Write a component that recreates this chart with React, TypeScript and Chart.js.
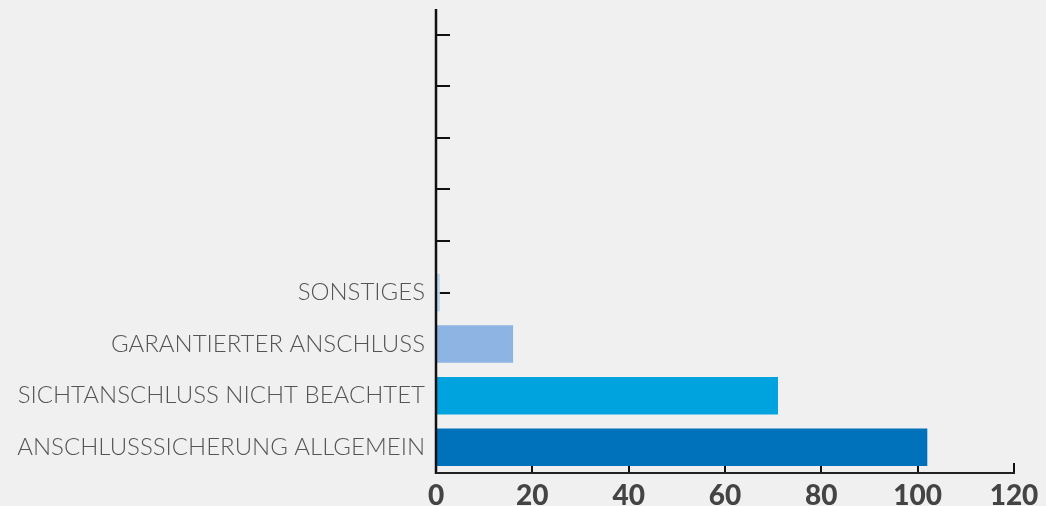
import React, { useEffect, useRef } from "react";
import { Chart, registerables } from "chart.js";

Chart.register(...registerables);

const categories: string[] = [
  "",
  "",
  "",
  "",
  "",
  "SONSTIGES",
  "GARANTIERTER ANSCHLUSS",
  "SICHTANSCHLUSS NICHT BEACHTET",
  "ANSCHLUSSSICHERUNG ALLGEMEIN",
];
const values: (number | null)[] = [null, null, null, null, null, 0.8, 16, 71, 102];
const barColors: string[] = [
  "#BDD7EE",
  "#BDD7EE",
  "#BDD7EE",
  "#BDD7EE",
  "#BDD7EE",
  "#BDD7EE",
  "#8DB4E2",
  "#00A3DD",
  "#0072BC",
];
const xTicks: number[] = [0, 20, 40, 60, 80, 100, 120];

const axisPlugin = {
  id: "customAxes",
  beforeDatasetsDraw(chart: any) {
    const { ctx, chartArea, scales } = chart;
    const x = scales.x;
    const y = scales.y;
    ctx.save();
    ctx.strokeStyle = "#111";
    ctx.lineWidth = 2;
    for (let i = 0; i < categories.length; i++) {
      const py = Math.round(y.getPixelForValue(i));
      ctx.beginPath();
      ctx.moveTo(chartArea.left, py);
      ctx.lineTo(chartArea.left + 14, py);
      ctx.stroke();
    }
    for (const v of xTicks) {
      const px = Math.round(x.getPixelForValue(v));
      ctx.beginPath();
      ctx.moveTo(px, chartArea.bottom);
      ctx.lineTo(px, chartArea.bottom - 10);
      ctx.stroke();
    }
    ctx.restore();
  },
  afterDatasetsDraw(chart: any) {
    const { ctx, chartArea } = chart;
    ctx.save();
    ctx.strokeStyle = "#111";
    ctx.lineWidth = 2.5;
    ctx.beginPath();
    ctx.moveTo(chartArea.left, chartArea.top);
    ctx.lineTo(chartArea.left, chartArea.bottom + 1);
    ctx.stroke();
    ctx.lineWidth = 2;
    ctx.strokeStyle = "#222";
    ctx.beginPath();
    ctx.moveTo(chartArea.left, chartArea.bottom);
    ctx.lineTo(chartArea.right + 1, chartArea.bottom);
    ctx.stroke();
    ctx.restore();
  },
};

export default function App() {
  const ref = useRef<HTMLCanvasElement | null>(null);
  useEffect(() => {
    document.body.style.margin = "0";
    document.body.style.background = "#f0f0f0";
    if (!ref.current) return;
    const chart = new Chart(ref.current, {
      type: "bar",
      data: {
        labels: categories,
        datasets: [
          {
            data: values,
            backgroundColor: barColors,
            borderWidth: 0,
            categoryPercentage: 1,
            barPercentage: 0.727,
          },
        ],
      },
      options: {
        indexAxis: "y",
        animation: false,
        responsive: false,
        maintainAspectRatio: false,
        layout: { padding: { top: 9, right: 32, left: 0, bottom: 0 } },
        plugins: {
          legend: { display: false },
          tooltip: { enabled: false },
        },
        scales: {
          x: {
            min: 0,
            max: 120,
            afterBuildTicks: (s: any) => {
              s.ticks = xTicks.map((v) => ({ value: v }));
            },
            afterFit: (s: any) => {
              s.height = 33;
            },
            grid: { display: false, drawTicks: false },
            border: { display: false },
            ticks: {
              padding: 6,
              color: "#444",
              font: { family: "Lato", weight: "900", size: 28 },
            },
          },
          y: {
            afterFit: (s: any) => {
              s.width = 436;
              s.paddingTop = 0;
              s.paddingBottom = 0;
            },
            grid: { display: false, drawTicks: false },
            border: { display: false },
            ticks: {
              padding: 11,
              color: "#555",
              font: { family: "Lato", weight: "300", size: 24 },
            },
          },
        },
      },
      plugins: [axisPlugin],
    });
    return () => chart.destroy();
  }, []);
  return (
    <div style={{ width: 1046, height: 506, background: "#f0f0f0" }}>
      <canvas ref={ref} width={1046} height={506} style={{ display: "block" }} />
    </div>
  );
}
